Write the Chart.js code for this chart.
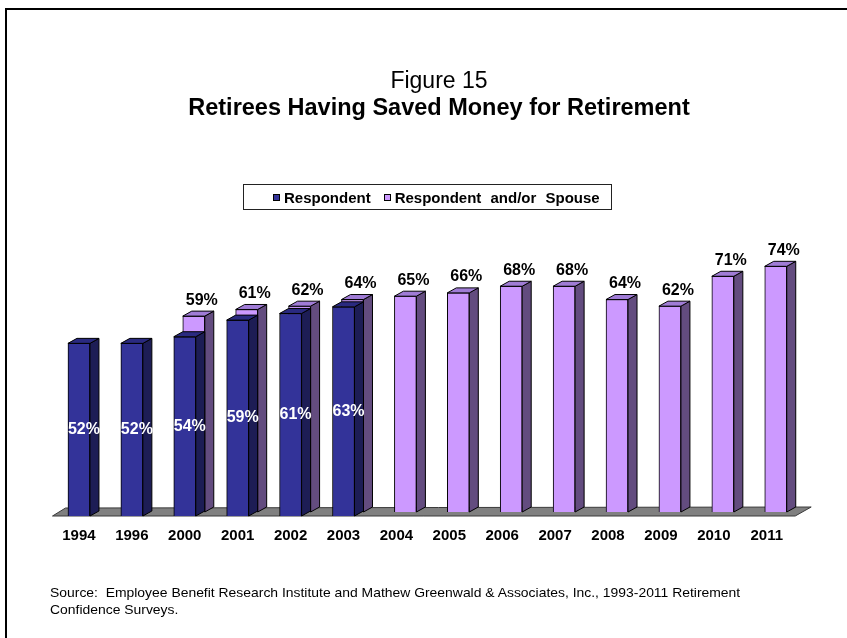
<!DOCTYPE html>
<html>
<head>
<meta charset="utf-8">
<script src="https://cdn.jsdelivr.net/npm/chart.js@4.4.1/dist/chart.umd.min.js"></script>
<style>
  body { margin: 0; background: #fff; }
  #wrap { position: relative; width: 847px; height: 638px; overflow: hidden; background: #fff;
          font-family: "Liberation Sans", Arial, sans-serif; color: #000; }
  #frame { position: absolute; left: 5px; top: 8px; width: 900px; height: 700px;
           border-left: 2px solid #000; border-top: 2px solid #000; }
  #chart { position: absolute; left: 0; top: 0; }
  .title { position: absolute; left: 439px; transform: translateX(-50%); white-space: nowrap; }
  #fig { top: 67px; font-size: 23px; }
  #sub { top: 94px; font-size: 23.5px; font-weight: bold; }
  #legend { position: absolute; left: 243px; top: 184px; width: 369px; height: 26px;
            border: 1px solid #222; display: flex; align-items: center; padding-left: 29px;
            box-sizing: border-box; font-size: 15px; font-weight: bold; word-spacing: 5px;
            white-space: nowrap; overflow: hidden; }
  #legend span.box { display: inline-block; width: 5px; height: 5px; border: 1px solid #000; margin-right: 4px; flex-shrink: 0; }
  #legend span.item { margin-right: 13px; display: inline-flex; align-items: center; flex-shrink: 0; }
  #source { position: absolute; left: 50px; top: 584px; font-size: 13px; line-height: 17px;
            transform: scaleX(1.07); transform-origin: left top; white-space: nowrap; }
</style>
</head>
<body>
<div id="wrap">
  <div id="frame"></div>
  <canvas id="chart" width="847" height="638"></canvas>
  <div class="title" id="fig">Figure 15</div>
  <div class="title" id="sub">Retirees Having Saved Money for Retirement</div>
  <div id="legend"></div>
  <div id="source">Source:&nbsp; Employee Benefit Research Institute and Mathew Greenwald &amp; Associates, Inc., 1993-2011 Retirement<br>Confidence Surveys.</div>
</div>
<script>
var years = ['1994', '1996', '2000', '2001', '2002', '2003', '2004', '2005', '2006', '2007', '2008', '2009', '2010', '2011'];
var respondent = [52, 52, 54, 59, 61, 63, null, null, null, null, null, null, null, null];
var respondentOrSpouse = [null, null, 59, 61, 62, 64, 65, 66, 68, 68, 64, 62, 71, 74];

var FONT = '"Liberation Sans", Arial, sans-serif';
var DEPTH_X = 9, DEPTH_Y = 5;     // 3d depth of each bar
var BACK_X = 9, BACK_Y = 4;       // back row offset

var faces = [
    { side: '#1d1d55', top: '#2a2a80' },   // respondent
    { side: '#634c7f', top: '#a07cd6' }    // respondent and/or spouse
];

// push the spouse series into the back row
var backRow = {
    id: 'backRow',
    afterDatasetUpdate: function (chart, args) {
        if (args.index !== 1) return;
        args.meta.data.forEach(function (el) {
            el.x += BACK_X;
            el.y -= BACK_Y;
            el.base -= BACK_Y;
        });
    }
};

var floor3d = {
    id: 'floor3d',
    beforeDatasetsDraw: function (chart) {
        var a = chart.chartArea, ctx = chart.ctx;
        ctx.save();
        ctx.beginPath();
        ctx.moveTo(a.left, a.bottom);
        ctx.lineTo(a.right + 2, a.bottom);
        ctx.lineTo(a.right + 18, a.bottom - 9);
        ctx.lineTo(a.left + 13, a.bottom - 8);
        ctx.closePath();
        ctx.fillStyle = '#808080';
        ctx.fill();
        ctx.strokeStyle = '#3a3a3a';
        ctx.lineWidth = 1;
        ctx.stroke();
        ctx.restore();
    }
};

var bars3d = {
    id: 'bars3d',
    afterDatasetDraw: function (chart, args) {
        var ctx = chart.ctx;
        var f = faces[args.index];
        var values = chart.data.datasets[args.index].data;
        ctx.save();
        ctx.lineWidth = 1;
        ctx.strokeStyle = '#000';
        args.meta.data.forEach(function (el, i) {
            if (values[i] === null) return;
            var l = el.x - el.width / 2, r = el.x + el.width / 2, t = el.y, b = el.base;
            ctx.beginPath();
            ctx.moveTo(r, t);
            ctx.lineTo(r + DEPTH_X, t - DEPTH_Y);
            ctx.lineTo(r + DEPTH_X, b - DEPTH_Y);
            ctx.lineTo(r, b);
            ctx.closePath();
            ctx.fillStyle = f.side;
            ctx.fill();
            ctx.stroke();
            ctx.beginPath();
            ctx.moveTo(l, t);
            ctx.lineTo(l + DEPTH_X, t - DEPTH_Y);
            ctx.lineTo(r + DEPTH_X, t - DEPTH_Y);
            ctx.lineTo(r, t);
            ctx.closePath();
            ctx.fillStyle = f.top;
            ctx.fill();
            ctx.stroke();
        });
        ctx.restore();
    }
};

var valueLabels = {
    id: 'valueLabels',
    afterDatasetsDraw: function (chart) {
        var ctx = chart.ctx;
        ctx.save();
        ctx.font = 'bold 16px ' + FONT;
        ctx.textAlign = 'center';
        ctx.textBaseline = 'middle';
        chart.getDatasetMeta(0).data.forEach(function (el, i) {
            if (respondent[i] === null) return;
            ctx.fillStyle = '#fff';
            ctx.fillText(respondent[i] + '%', el.x + 5, (el.y + el.base) / 2);
        });
        chart.getDatasetMeta(1).data.forEach(function (el, i) {
            if (respondentOrSpouse[i] === null) return;
            ctx.fillStyle = '#000';
            ctx.fillText(respondentOrSpouse[i] + '%', el.x + 8, el.y - 16);
        });
        ctx.restore();
    }
};

var chart = new Chart(document.getElementById('chart'), {
    type: 'bar',
    data: {
        labels: years,
        datasets: [{
            label: 'Respondent',
            data: respondent,
            backgroundColor: '#333399',
            borderColor: '#000',
            borderWidth: 1,
            barThickness: 22,
            grouped: false
        }, {
            label: 'Respondent and/or Spouse',
            data: respondentOrSpouse,
            backgroundColor: '#cc99ff',
            borderColor: '#000',
            borderWidth: 1,
            barThickness: 22,
            grouped: false
        }]
    },
    options: {
        responsive: false,
        animation: false,
        events: [],
        layout: {
            padding: { top: 250.4, left: 52.5, right: 53.8, bottom: 82 }
        },
        plugins: {
            legend: { display: false },
            title: { display: false },
            tooltip: { enabled: false }
        },
        scales: {
            x: {
                grid: { display: false, drawTicks: false },
                border: { display: false },
                ticks: {
                    padding: 11,
                    color: '#000',
                    font: { family: FONT, size: 15, weight: 'bold' }
                }
            },
            y: {
                display: false,
                min: 0,
                max: 80
            }
        }
    },
    plugins: [backRow, floor3d, bars3d, valueLabels]
});

// html legend from the chart's own datasets
var legendEl = document.getElementById('legend');
chart.data.datasets.forEach(function (ds) {
    var item = document.createElement('span');
    item.className = 'item';
    var box = document.createElement('span');
    box.className = 'box';
    box.style.background = ds.backgroundColor;
    item.appendChild(box);
    item.appendChild(document.createTextNode(ds.label));
    legendEl.appendChild(item);
});
</script>
</body>
</html>
